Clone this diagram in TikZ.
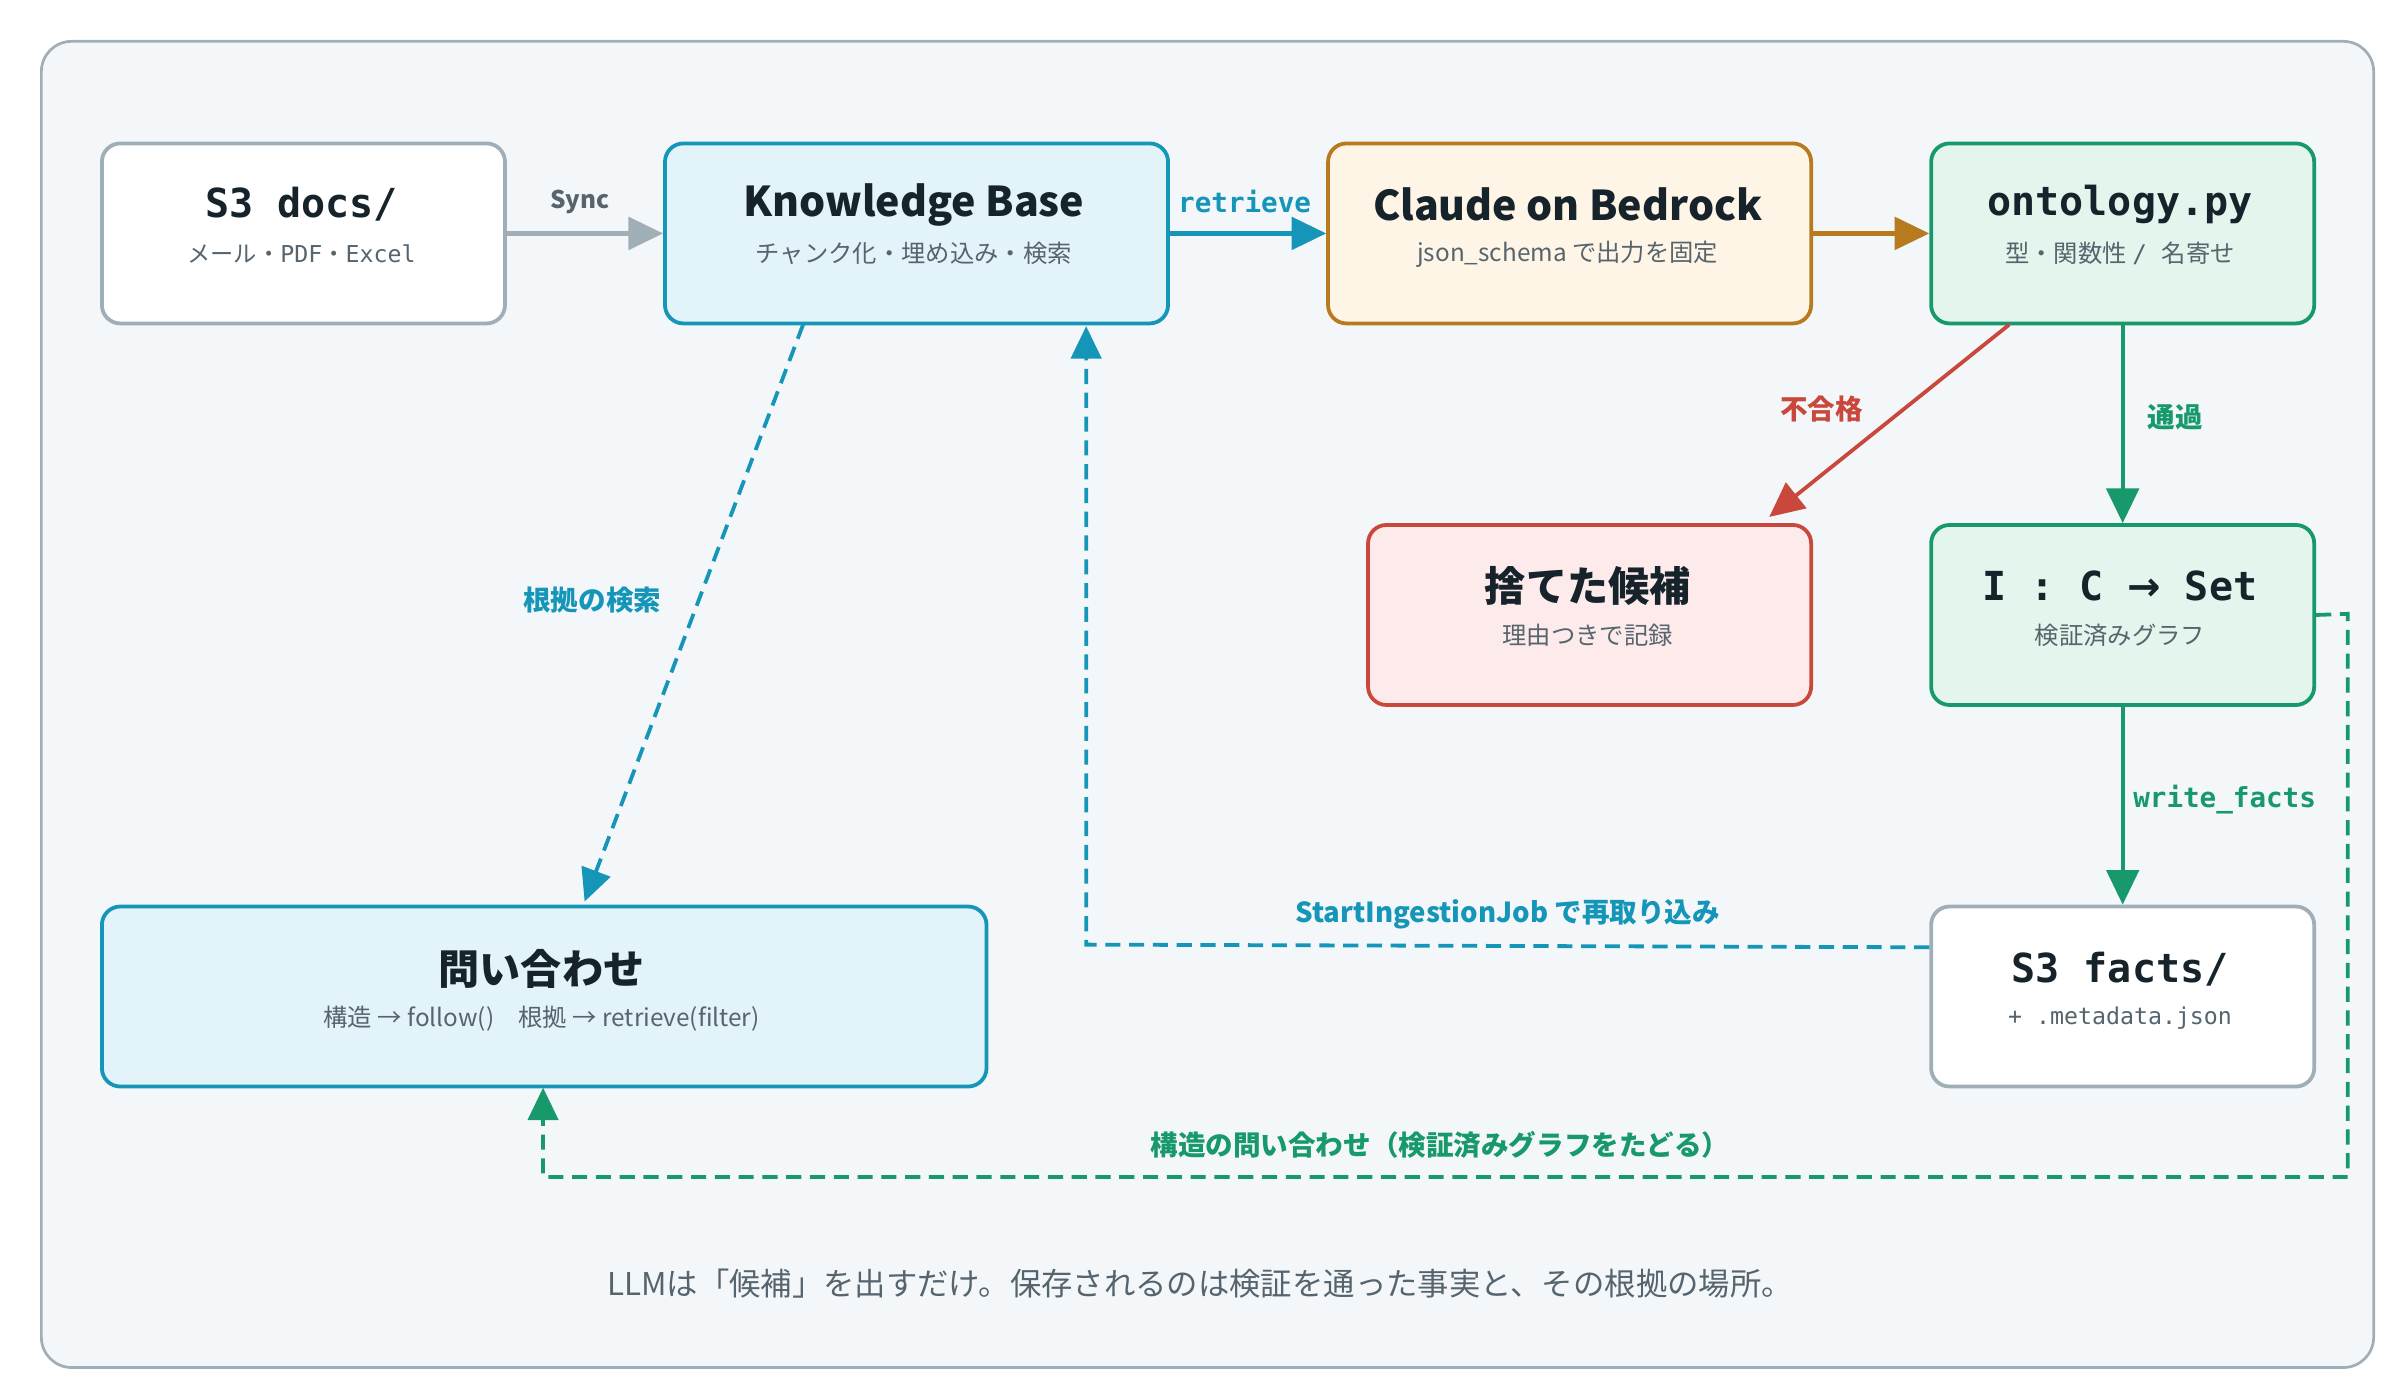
\documentclass[tikz,border=0pt]{standalone}
\usepackage{fontspec}
\setmainfont{Noto Sans CJK JP}
\newfontfamily\monof{DejaVu Sans Mono}
\usetikzlibrary{arrows.meta,calc}
\definecolor{bgc}{HTML}{F4F7FA}
\definecolor{greyc}{HTML}{A0AEB8}
\definecolor{bluec}{HTML}{1596B8}
\definecolor{bluef}{HTML}{E3F3FA}
\definecolor{brownc}{HTML}{B87A1E}
\definecolor{brownf}{HTML}{FEF5E6}
\definecolor{greenc}{HTML}{17996B}
\definecolor{greenf}{HTML}{E3F5EC}
\definecolor{redc}{HTML}{C9483B}
\definecolor{redf}{HTML}{FDEAEA}
\definecolor{inkc}{HTML}{17232B}
\definecolor{subc}{HTML}{56646E}
\begin{document}
\begin{tikzpicture}[x=0.05cm,y=-0.05cm,
  box/.style={draw,line width=3.5pt,rounded corners=17pt,anchor=north west,inner sep=0pt},
  ttl/.style={font=\fontsize{38}{44}\selectfont\bfseries,text=inkc,inner sep=0pt},
  mttl/.style={font=\fontsize{37}{44}\selectfont\monof\bfseries,text=inkc,inner sep=0pt},
  sub/.style={font=\fontsize{22.5}{27}\selectfont,text=subc,inner sep=0pt},
  msub/.style={font=\fontsize{21.5}{27}\selectfont\monof,text=subc,inner sep=0pt},
  lbl/.style={font=\fontsize{25.5}{30}\selectfont\bfseries,inner sep=0pt},
  mlbl/.style={font=\fontsize{25.5}{30}\selectfont\monof\bfseries,inner sep=0pt},
  arr/.style={line width=4pt,-{Triangle[length=32pt,width=30pt]}},
  darr/.style={line width=3.5pt,dash pattern=on 14pt off 8pt,-{Triangle[length=30pt,width=28pt]}}]
\useasboundingbox (0,0) rectangle (1560,910);
\node[box,draw=greyc,fill=bgc,line width=2.5pt,rounded corners=28pt,minimum width={1516*0.05cm},minimum height={862*0.05cm}] (frame) at (26,26) {};
% boxes
\node[box,draw=greyc,fill=white,minimum width={262*0.05cm},minimum height={117*0.05cm}] (s3d) at (65,92) {};
\node[box,draw=bluec,fill=bluef,minimum width={327*0.05cm},minimum height={117*0.05cm}] (kb) at (431,92) {};
\node[box,draw=brownc,fill=brownf,minimum width={314*0.05cm},minimum height={117*0.05cm}] (cl) at (862,92) {};
\node[box,draw=greenc,fill=greenf,minimum width={249*0.05cm},minimum height={117*0.05cm}] (on) at (1254,92) {};
\node[box,draw=redc,fill=redf,minimum width={288*0.05cm},minimum height={117*0.05cm}] (rej) at (888,340) {};
\node[box,draw=greenc,fill=greenf,minimum width={249*0.05cm},minimum height={117*0.05cm}] (set) at (1254,340) {};
\node[box,draw=greyc,fill=white,minimum width={249*0.05cm},minimum height={117*0.05cm}] (s3f) at (1254,588) {};
\node[box,draw=bluec,fill=bluef,minimum width={575*0.05cm},minimum height={117*0.05cm}] (q) at (65,588) {};
% texts
\node[mttl] (t1) at (196,133) {S3 docs/};
\node[msub] (u1) at (196,165) {\fontspec{Noto Sans CJK JP}メール・\monof PDF\fontspec{Noto Sans CJK JP}・\monof Excel};
\node[ttl] (t2) at (594,133) {Knowledge Base};
\node[sub] (u2) at (594,165) {チャンク化・埋め込み・検索};
\node[ttl] (t3) at (1019,133) {Claude on Bedrock};
\node[sub] (u3) at (1019,165) {json\_schema で出力を固定};
\node[mttl] (t4) at (1378,133) {ontology.py};
\node[sub] (u4) at (1378,165) {型・関数性 \monof/ \fontspec{Noto Sans CJK JP}名寄せ};
\node[ttl] (t5) at (1032,381) {捨てた候補};
\node[sub] (u5) at (1032,413) {理由つきで記録};
\node[mttl] (t6) at (1378,381) {I : C \fontspec{DejaVu Sans}\bfseries→\monof\bfseries{} Set};
\node[sub] (u6) at (1378,413) {検証済みグラフ};
\node[mttl] (t7) at (1378,630) {S3 facts/};
\node[msub] (u7) at (1378,662) {+ .metadata.json};
\node[ttl] (t8) at (352,630) {問い合わせ};
\node[sub] (u8) at (352,662) {構造 → follow()\quad 根拠 → retrieve(filter)};
% arrows
\draw[arr,greyc] (s3d.east) -- (kb.west);
\node[lbl,text=subc,font=\fontsize{22.5}{27}\selectfont\bfseries] (l1) at (377,131) {Sync};
\draw[arr,bluec] (kb.east) -- (cl.west);
\node[mlbl,text=bluec] (l2) at (809,131) {retrieve};
\draw[arr,brownc] (cl.east) -- (on.west);
\coordinate (a1) at (1306,211);
\coordinate (a2) at (1150,336);
\draw[arr,redc,line width=3.5pt] (a1) -- (a2);
\node[lbl,text=redc] (l3) at (1184,266) {不合格};
\draw[arr,greenc,line width=3.5pt] (on.south) -- (set.north);
\node[lbl,text=greenc] (l4) at (1414,271) {通過};
\draw[arr,greenc,line width=3.5pt] (set.south) -- (s3f.north);
\node[mlbl,text=greenc] (l5) at (1446,520) {write\_facts};
\coordinate (b1) at (522,211);
\coordinate (b2) at (380,586);
\draw[darr,bluec] (b1) -- (b2);
\node[lbl,text=bluec] (l6) at (385,390) {根拠の検索};
\coordinate (c1) at (706,614);
\coordinate (c2) at (706,212);
\draw[darr,bluec] ($(s3f.west)+(0,-32)$) -- (c1) -- (c2);
\node[lbl,text=bluec] (l7) at (980,594) {StartIngestionJob で再取り込み};
\coordinate (d1) at (1526,399);
\coordinate (d2) at (1526,765);
\coordinate (d3) at (353,765);
\coordinate (d4) at (353,707);
\draw[darr,greenc] (set.east) -- (d1) -- (d2) -- (d3) -- (d4);
\node[lbl,text=greenc] (l8) at (936,744) {構造の問い合わせ（検証済みグラフをたどる）};
\node[font=\fontsize{29}{34}\selectfont,text=subc,inner sep=0pt] (foot) at (780,834) {LLMは「候補」を出すだけ。保存されるのは検証を通った事実と、その根拠の場所。};
\end{tikzpicture}
\end{document}
